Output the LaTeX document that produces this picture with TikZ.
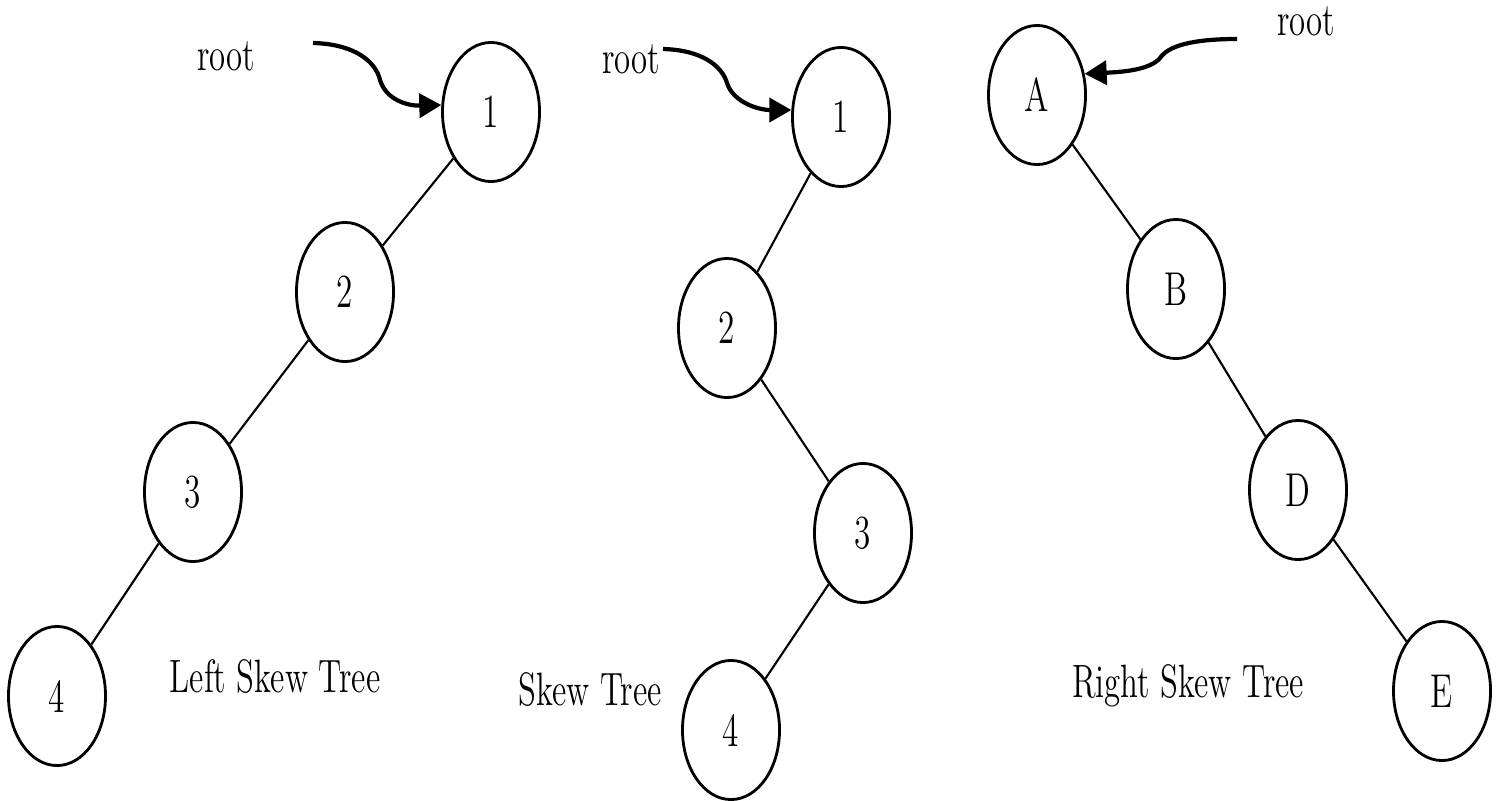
\documentclass[tikz,border=0pt]{standalone}
\usepackage{tikz}
\usetikzlibrary{shapes.geometric,arrows.meta}
\newcommand{\skewtxt}[1]{\scalebox{0.7}[1]{#1}}
\tikzset{
  vertex/.style={draw=black,ellipse,line width=0.8pt,minimum width=0.97cm,minimum height=1.39cm,inner sep=0pt,font=\fontsize{13.5}{16}\selectfont},
  treelabel/.style={anchor=base,inner sep=0pt,font=\fontsize{13.3}{16}\selectfont},
  rootarrow/.style={line width=1.2pt,-{Triangle[length=0.22cm,width=0.24cm]}},
  link/.style={line width=0.6pt}
}
\begin{document}
\begin{tikzpicture}[x=0.01cm,y=-0.01cm]
\useasboundingbox (0,0) rectangle (1501,800);
% left skew tree
\node[vertex] (l1) at (491,112) {\skewtxt{1}};
\node[vertex] (l2) at (345,292) {\skewtxt{2}};
\node[vertex] (l3) at (193,492) {\skewtxt{3}};
\node[vertex] (l4) at (57,696) {\skewtxt{4}};
\draw[link] (l1) -- (l2);
\draw[link] (l2) -- (l3);
\draw[link] (l3) -- (l4);
\node[treelabel] (lroot) at (226,70) {\skewtxt{root}};
\node[treelabel] (lname) at (275,692) {\skewtxt{Left Skew Tree}};
\coordinate (lstart) at (313,43);
\draw[rootarrow] (lstart) .. controls (355,44) and (376,62) .. (380,80) .. controls (386,100) and (408,106) .. (l1.172);
% skew tree
\node[vertex] (m1) at (841,117) {\skewtxt{1}};
\node[vertex] (m2) at (727,328) {\skewtxt{2}};
\node[vertex] (m3) at (863,533) {\skewtxt{3}};
\node[vertex] (m4) at (731,730) {\skewtxt{4}};
\draw[link] (m1) -- (m2);
\draw[link] (m2) -- (m3);
\draw[link] (m3) -- (m4);
\node[treelabel] (mroot) at (631,73) {\skewtxt{root}};
\node[treelabel] (mname) at (590,705) {\skewtxt{Skew Tree}};
\coordinate (mstart) at (663,49);
\draw[rootarrow] (mstart) .. controls (702,50) and (722,66) .. (727,83) .. controls (733,102) and (758,110) .. (m1.172);
% right skew tree
\node[vertex] (rA) at (1037,95) {\skewtxt{A}};
\node[vertex] (rB) at (1176,289) {\skewtxt{B}};
\node[vertex] (rD) at (1298,490) {\skewtxt{D}};
\node[vertex] (rE) at (1442,691) {\skewtxt{E}};
\draw[link] (rA) -- (rB);
\draw[link] (rB) -- (rD);
\draw[link] (rD) -- (rE);
\node[treelabel] (rroot) at (1306,35) {\skewtxt{root}};
\node[treelabel] (rname) at (1188,697) {\skewtxt{Right Skew Tree}};
\coordinate (rstart) at (1237,39);
\draw[rootarrow] (rstart) .. controls (1192,39) and (1168,46) .. (1160,58) .. controls (1150,70) and (1122,72) .. (rA.24);
\end{tikzpicture}
\end{document}
